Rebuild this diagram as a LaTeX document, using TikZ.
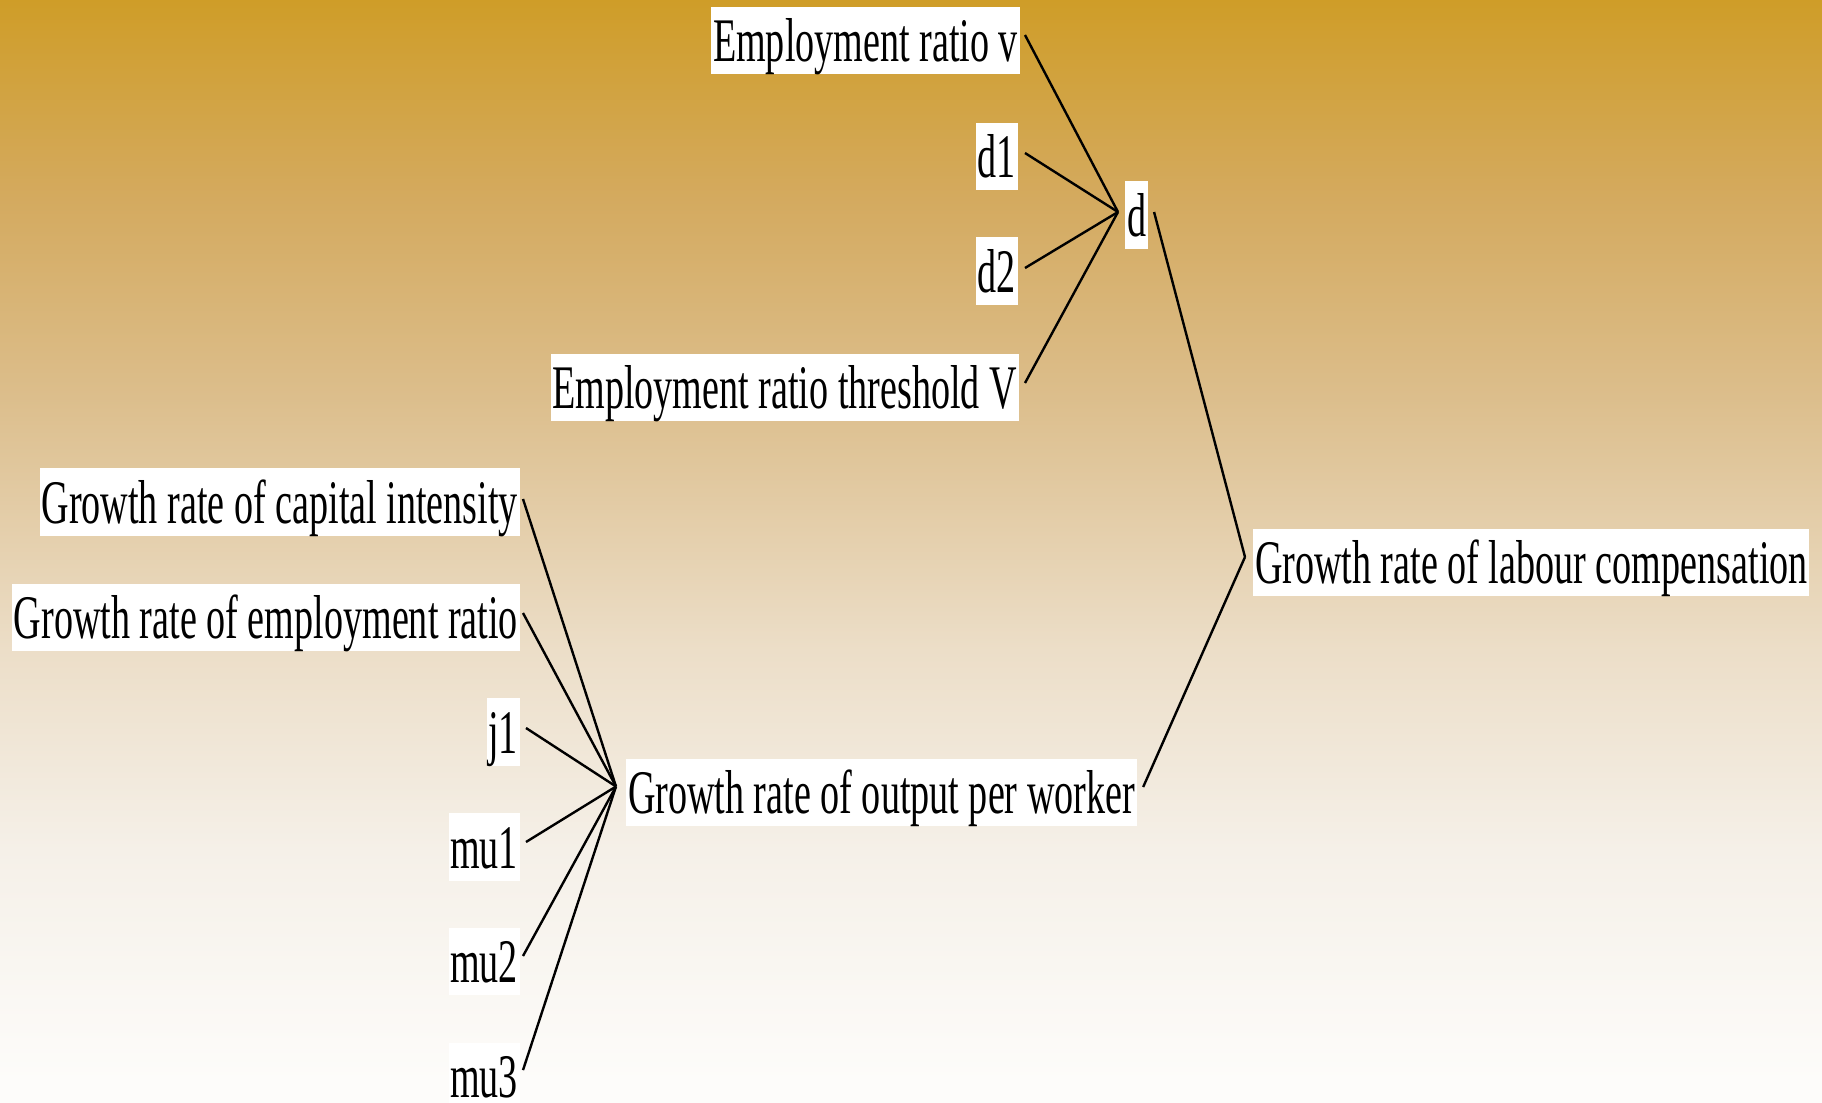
\documentclass[tikz,border=0pt]{standalone}
\usepackage{fontspec}
\setmainfont{Liberation Serif}[FakeStretch=0.615]
\definecolor{cB0}{RGB}{253,252,250}
\definecolor{cB1}{RGB}{245,240,232}
\definecolor{cB2}{RGB}{236,222,200}
\definecolor{cB3}{RGB}{220,190,140}
\definecolor{cB4}{RGB}{212,170,95}
\definecolor{cB5}{RGB}{207,157,40}
\pgfdeclareverticalshading{bgshade}{100bp}{
  color(0bp)=(cB0); color(26bp)=(cB0); color(36.5bp)=(cB1); color(45.5bp)=(cB2);
  color(57bp)=(cB3); color(66bp)=(cB4); color(75bp)=(cB5); color(100bp)=(cB5)}
\tikzset{
  lab/.style={fill=white, inner xsep=0.8pt, inner ysep=0pt,
    text height=27.4pt, text depth=6.2pt, font=\fontsize{31}{37}\selectfont},
  conn/.style={line width=1.2pt, black}
}
\begin{document}
\begin{tikzpicture}[x=0.5pt, y=-0.5pt]
\useasboundingbox (0,0) rectangle (1822,1103);
\shade[shading=bgshade] (0,0) rectangle (1822,1103);

\node[lab, anchor=east] (ev) at (1020,40.5) {Employment ratio v};
\node[lab, anchor=east] (d1) at (1018,156.5) {d1};
\node[lab, anchor=east] (d2) at (1018,271) {d2};
\node[lab, anchor=east] (evt) at (1019,387.5) {Employment ratio threshold V};
\node[lab, anchor=west] (d) at (1125,215) {d};

\node[lab, anchor=east] (gci) at (520,502) {Growth rate of capital intensity};
\node[lab, anchor=east] (ger) at (520,617.5) {Growth rate of employment ratio};
\node[lab, anchor=east] (j1) at (520,732) {j1};
\node[lab, anchor=east] (mu1) at (520,847) {mu1};
\node[lab, anchor=east] (mu2) at (520,961.6) {mu2};
\node[lab, anchor=east] (mu3) at (520,1076.7) {mu3};

\node[lab, anchor=west] (gow) at (626,792.5) {Growth rate of output per worker};
\node[lab, anchor=west] (glc) at (1253,562.5) {Growth rate of labour compensation};

\coordinate (jd) at ([shift={(-3.5pt,1.5pt)}]d.west);
\coordinate (jgow) at ([shift={(-5pt,3pt)}]gow.west);
\coordinate (jglc) at ([shift={(-4pt,2.75pt)}]glc.west);

\draw[conn] ([shift={(2.5pt,2.75pt)}]ev.east) -- (jd);
\draw[conn] ([shift={(3.5pt,1.75pt)}]d1.east) -- (jd);
\draw[conn] ([shift={(3.5pt,1.5pt)}]d2.east) -- (jd);
\draw[conn] ([shift={(3pt,2.25pt)}]evt.east) -- (jd);

\draw[conn] ([shift={(1.5pt,1.5pt)}]gci.east) -- (jgow);
\draw[conn] ([shift={(1.5pt,2.25pt)}]ger.east) -- (jgow);
\draw[conn] ([shift={(3pt,2pt)}]j1.east) -- (jgow);
\draw[conn] ([shift={(3pt,2.5pt)}]mu1.east) -- (jgow);
\draw[conn] ([shift={(1.5pt,2.8pt)}]mu2.east) -- (jgow);
\draw[conn] ([shift={(1.5pt,3.3pt)}]mu3.east) -- (jgow);

\draw[conn] ([shift={(3pt,1.5pt)}]d.east) -- (jglc);
\draw[conn] ([shift={(3pt,2.75pt)}]gow.east) -- (jglc);
\end{tikzpicture}
\end{document}
